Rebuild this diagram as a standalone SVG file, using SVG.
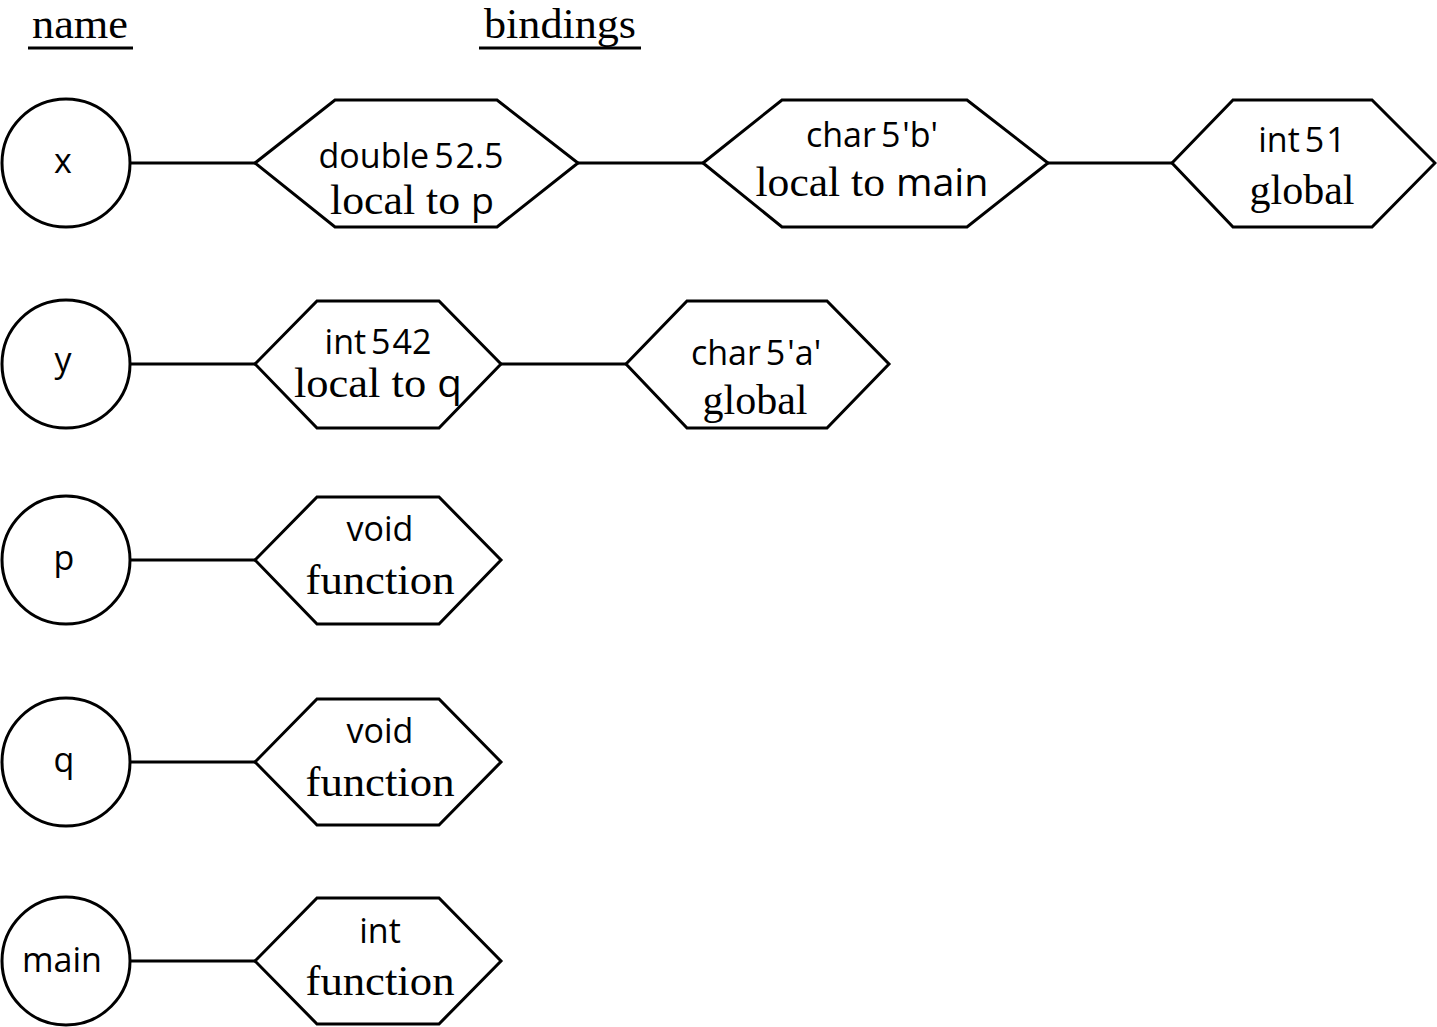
<svg xmlns="http://www.w3.org/2000/svg" width="1437" height="1027" viewBox="0 0 1437 1027">
<style>
.shape{fill:#fff;stroke:#000;stroke-width:3}
.conn line{stroke:#000;stroke-width:3}
.s{font-family:"Open Sans","Liberation Sans",sans-serif;font-size:34px;text-anchor:middle;fill:#000}
.r{font-family:"Liberation Serif","Times New Roman",serif;font-size:42px;text-anchor:middle;fill:#000}
.h{font-family:"Liberation Serif","Times New Roman",serif;font-size:42px;fill:#000}
.ss{font-family:"Open Sans","Liberation Sans",sans-serif}
</style>
<rect width="1437" height="1027" fill="#fff"/>
<g id="headers">
<text class="h" x="32" y="38" textLength="96" lengthAdjust="spacingAndGlyphs">name</text>
<line x1="28" y1="48" x2="133" y2="48" stroke="#000" stroke-width="3"/>
<text class="h" x="484" y="38" textLength="152" lengthAdjust="spacingAndGlyphs">bindings</text>
<line x1="479" y1="48" x2="641" y2="48" stroke="#000" stroke-width="3"/>
</g>
<g class="conn" id="connectors">
<line x1="131" y1="163" x2="255" y2="163"/>
<line x1="578" y1="163" x2="703" y2="163"/>
<line x1="1048" y1="163" x2="1172" y2="163"/>
<line x1="131" y1="364" x2="255" y2="364"/>
<line x1="501" y1="364" x2="626" y2="364"/>
<line x1="131" y1="560" x2="255" y2="560"/>
<line x1="131" y1="762" x2="255" y2="762"/>
<line x1="131" y1="961" x2="255" y2="961"/>
</g>
<g id="name-x">
<circle class="shape" cx="66" cy="163" r="64"/>
<text class="s" x="63" y="173">x</text>
</g>
<g id="name-y">
<circle class="shape" cx="66" cy="364" r="64"/>
<text class="s" x="63" y="372">y</text>
</g>
<g id="name-p">
<circle class="shape" cx="66" cy="560" r="64"/>
<text class="s" x="64" y="570">p</text>
</g>
<g id="name-q">
<circle class="shape" cx="66" cy="762" r="64"/>
<text class="s" x="64" y="772">q</text>
</g>
<g id="name-main">
<circle class="shape" cx="66" cy="961" r="64"/>
<text class="s" x="62" y="972" textLength="80" lengthAdjust="spacingAndGlyphs">main</text>
</g>
<g id="bind-x-double">
<polygon class="shape" points="255,163 335,100 497,100 578,163 497,227 335,227"/>
<text class="s" x="411" y="168">double<tspan dx="5">5</tspan><tspan dx="2">2.5</tspan></text>
<text class="r" x="412" y="214" textLength="164" lengthAdjust="spacingAndGlyphs">local to <tspan class="ss" font-size="36">p</tspan></text>
</g>
<g id="bind-x-char">
<polygon class="shape" points="703,163 782,100 967,100 1048,163 967,227 782,227"/>
<text class="s" x="872" y="147">char<tspan dx="5">5</tspan><tspan dx="2">'b'</tspan></text>
<text class="r" x="872" y="196" textLength="233" lengthAdjust="spacingAndGlyphs">local to <tspan class="ss" font-size="38">main</tspan></text>
</g>
<g id="bind-x-int">
<polygon class="shape" points="1172,163 1233,100 1372,100 1435,163 1372,227 1233,227"/>
<text class="s" x="1302" y="152">int<tspan dx="5">5</tspan><tspan dx="2">1</tspan></text>
<text class="r" x="1302" y="204" textLength="105" lengthAdjust="spacingAndGlyphs">global</text>
</g>
<g id="bind-y-int">
<polygon class="shape" points="255,364 317,301 439,301 501,364 439,428 317,428"/>
<text class="s" x="378" y="354">int<tspan dx="5">5</tspan><tspan dx="2">42</tspan></text>
<text class="r" x="378" y="397" textLength="168" lengthAdjust="spacingAndGlyphs">local to <tspan class="ss" font-size="38">q</tspan></text>
</g>
<g id="bind-y-char">
<polygon class="shape" points="626,364 687,301 827,301 889,364 827,428 687,428"/>
<text class="s" x="756" y="365">char<tspan dx="5">5</tspan><tspan dx="2">'a'</tspan></text>
<text class="r" x="755" y="414" textLength="105" lengthAdjust="spacingAndGlyphs">global</text>
</g>
<g id="bind-p">
<polygon class="shape" points="255,560 317,497 439,497 501,560 439,624 317,624"/>
<text class="s" x="380" y="541">void</text>
<text class="r" x="380" y="594" textLength="149" lengthAdjust="spacingAndGlyphs">function</text>
</g>
<g id="bind-q">
<polygon class="shape" points="255,762 317,699 439,699 501,762 439,825 317,825"/>
<text class="s" x="380" y="743">void</text>
<text class="r" x="380" y="796" textLength="149" lengthAdjust="spacingAndGlyphs">function</text>
</g>
<g id="bind-main">
<polygon class="shape" points="255,961 317,898 439,898 501,961 439,1024 317,1024"/>
<text class="s" x="380" y="943">int</text>
<text class="r" x="380" y="995" textLength="149" lengthAdjust="spacingAndGlyphs">function</text>
</g>
</svg>
